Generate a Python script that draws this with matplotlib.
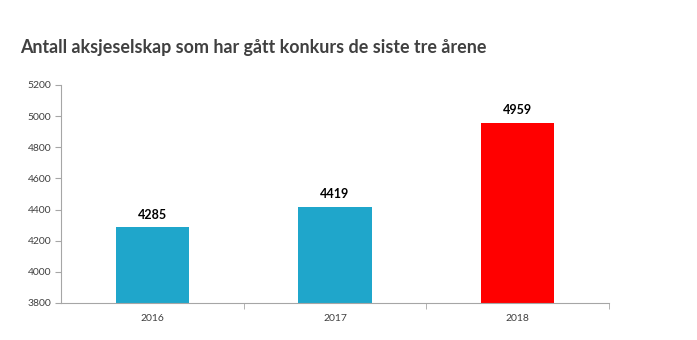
import matplotlib
matplotlib.use("Agg")
import matplotlib.pyplot as plt
from matplotlib.ticker import FixedLocator, NullFormatter

years = ["2016", "2017", "2018"]
values = [4285, 4419, 4959]
colors = ["#1fa6cb", "#1fa6cb", "#ff0000"]
yticks = [3800, 4000, 4200, 4400, 4600, 4800, 5000, 5200]

plt.rcParams['font.family'] = ['Lato', 'DejaVu Sans']

fig = plt.figure(figsize=(6.97, 3.40), dpi=100)
ax = fig.add_axes([61/697, 1-303/340, (609-61)/697, (303-85)/340])

x = list(range(len(years)))
bars = ax.bar(x, values, width=0.4, color=colors, zorder=2)
ax.set_ylim(3800, 5200)
ax.set_xlim(-0.5, 2.5)
ax.set_yticks(yticks)
ax.set_yticklabels([str(v) for v in yticks], fontsize=7.5, color="#404040")
ax.set_xticks(x)
ax.set_xticklabels(years, fontsize=7.5, color="#404040")
ax.tick_params(axis='x', which='major', length=0, pad=8)
ax.xaxis.set_minor_locator(FixedLocator([0.5, 1.5, 2.5]))
ax.xaxis.set_minor_formatter(NullFormatter())
ax.tick_params(axis='x', which='minor', length=4, color="#a6a6a6", direction='out')
ax.tick_params(axis='y', length=4, color="#a6a6a6", direction='out', pad=3)
for s in ['top', 'right']:
    ax.spines[s].set_visible(False)
for s in ['left', 'bottom']:
    ax.spines[s].set_color("#a6a6a6")
    ax.spines[s].set_linewidth(0.8)

for xi, v in zip(x, values):
    ax.annotate(str(v), (xi, v), xytext=(0, 5), textcoords='offset points',
                ha='center', va='bottom', fontsize=9, fontweight='bold', color='black')

fig.text(20/697, 1-47/340, "Antall aksjeselskap som har gått konkurs de siste tre årene",
         fontsize=12.9, fontweight='bold', color="#404040", ha='left', va='center')

fig.savefig("out.png", dpi=100, facecolor='white')
